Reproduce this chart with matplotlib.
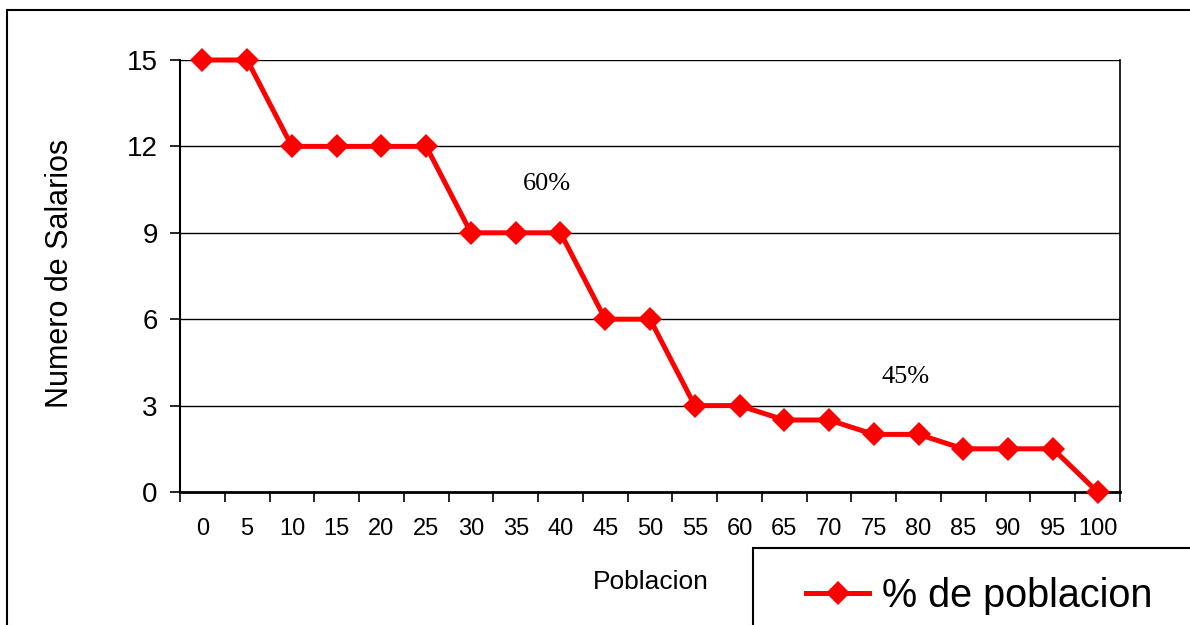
import matplotlib.pyplot as plt
from matplotlib.patches import Rectangle
import numpy as np

plt.rcParams['font.family'] = ['Liberation Sans', 'DejaVu Sans']

poblacion = ['0', '5', '10', '15', '20', '25', '30', '35', '40', '45', '50',
             '55', '60', '65', '70', '75', '80', '85', '90', '95', '100']
salarios = [15, 15, 12, 12, 12, 12, 9, 9, 9, 6, 6,
            3, 3, 2.5, 2.5, 2, 2, 1.5, 1.5, 1.5, 0]
y_ticks = [0, 3, 6, 9, 12, 15]
notas = ['60%', '45%']
notas_x = [7.7, 15.7]
notas_y = [10.7, 4.0]

W, H = 1190, 625
fig = plt.figure(figsize=(W / 100, H / 100), dpi=100)

# borde exterior del grafico (se sale por la derecha y abajo)
fig.patches.append(Rectangle((7 / W, -0.1), 1.2, 1 - 10 / H + 0.1,
                             transform=fig.transFigure, fill=False,
                             edgecolor='black', linewidth=1.5))

ax = fig.add_axes([180 / W, 1 - 492 / H, 940 / W, 432 / H])
x = np.arange(len(poblacion))
linea, = ax.plot(x, salarios, color='#ff0000', linewidth=3.6, marker='D',
                 markersize=12, markeredgewidth=0, label='% de poblacion',
                 clip_on=False, zorder=5)

ax.set_xlim(-0.5, len(poblacion) - 0.5)
ax.set_ylim(0, 15)
ax.set_yticks(y_ticks)
ax.set_xticks(x)
ax.set_xticklabels(poblacion, fontsize=17)
ax.set_xticks(np.arange(len(poblacion) + 1) - 0.5, minor=True)
ax.tick_params(axis='x', which='major', length=0, pad=19)
ax.tick_params(axis='x', which='minor', length=7, width=1.2, direction='out')
ax.tick_params(axis='y', length=7, width=1.2, pad=9, labelsize=20)
for v in y_ticks[1:]:
    ax.axhline(v, color='black', linewidth=1.0, zorder=1)

ax.spines['top'].set_visible(False)
ax.spines['left'].set_linewidth(1.5)
ax.spines['bottom'].set_linewidth(2)
ax.spines['right'].set_linewidth(1.2)

for t, tx, ty in zip(notas, notas_x, notas_y):
    ax.text(tx, ty, t, ha='center', va='center', fontsize=19,
            family=['Liberation Serif', 'DejaVu Serif'])

fig.text(60 / W, 1 - 273 / H, 'Numero de Salarios', rotation=90,
         ha='center', va='center', fontsize=22)
fig.text(651 / W, 1 - 582 / H, 'Poblacion', ha='center', va='center',
         fontsize=19)

# caja de leyenda
fig.patches.append(Rectangle((753 / W, -0.1), 1.0, 0.1 + 1 - 548 / H,
                             transform=fig.transFigure, fill=False,
                             edgecolor='black', linewidth=1.5))
leg = fig.legend(handles=[linea], loc='center left',
                 bbox_to_anchor=(806 / W, 1 - 596 / H), frameon=False,
                 handlelength=1.6, handletextpad=0.33, borderpad=0,
                 borderaxespad=0, prop={'size': 28.5})

fig.savefig('out.png', dpi=100)
